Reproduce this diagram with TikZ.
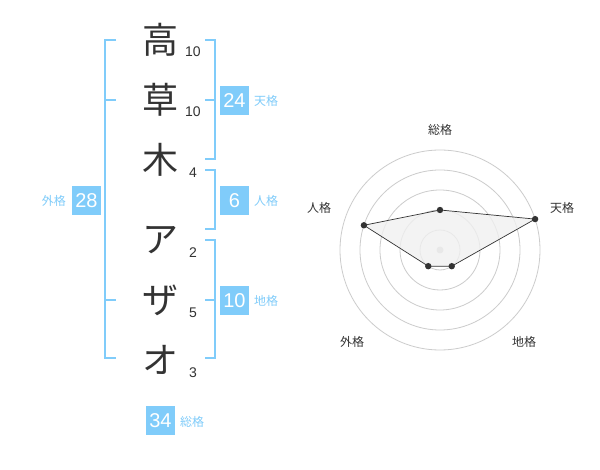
\documentclass[tikz,border=0pt]{standalone}
\usepackage{fontspec}
\setmainfont{Noto Sans CJK JP}
\newfontfamily\cjk{Noto Sans CJK JP}
\newfontfamily\latn{Liberation Sans}
\definecolor{boxblue}{RGB}{128,204,250}
\definecolor{textgray}{RGB}{51,51,51}
\definecolor{gridgray}{RGB}{204,204,204}
\definecolor{polyfill}{RGB}{240,240,240}
\tikzset{
  bigchar/.style={font=\fontsize{36}{36}\selectfont\cjk, text=textgray, inner sep=0},
  strokes/.style={font=\fontsize{14}{14}\selectfont\latn, text=textgray, inner sep=0},
  numbox/.style={fill=boxblue, text=white, minimum size=29pt, inner sep=0, font=\fontsize{20}{20}\selectfont\latn},
  kaku/.style={text=boxblue, font=\fontsize{12}{12}\selectfont\cjk, inner sep=0},
  bracket/.style={draw=boxblue, line width=2pt},
  gridc/.style={draw=gridgray, line width=0.8pt},
  radlab/.style={text=textgray, font=\fontsize{12}{12}\selectfont\cjk, inner sep=0},
  dot/.style={fill=textgray}
}
\begin{document}
\begin{tikzpicture}[x=1pt,y=-1pt]
\useasboundingbox (0,0) rectangle (600,470);
\fill[white] (0,0) rectangle (600,470);
% characters
\node[bigchar] (c1) at (160,40) {高};
\node[bigchar] (c2) at (160,100) {草};
\node[bigchar] (c3) at (160,160) {木};
\node[bigchar] (c4) at (160,240) {ア};
\node[bigchar] (c5) at (160,300) {ザ};
\node[bigchar] (c6) at (160,360) {オ};
\node[strokes] (s1) at (193,52) {10};
\node[strokes] (s2) at (193,112) {10};
\node[strokes] (s3) at (193,173) {4};
\node[strokes] (s4) at (193,253) {2};
\node[strokes] (s5) at (193,313) {5};
\node[strokes] (s6) at (193,373) {3};
% brackets
\draw[bracket] (116,40) -- (105,40) -- (105,358) -- (116,358);
\draw[bracket] (105,100) -- (116,100);
\draw[bracket] (105,300) -- (116,300);
\draw[bracket] (205,40) -- (215,40) -- (215,159) -- (205,159);
\draw[bracket] (205,100) -- (215,100);
\draw[bracket] (205,170) -- (215,170) -- (215,229) -- (205,229);
\draw[bracket] (205,240) -- (215,240) -- (215,358) -- (205,358);
\draw[bracket] (205,300) -- (215,300);
% boxes
\node[numbox] (b1) at (234.5,100.5) {24};
\node[kaku, anchor=west] (l1) at (254,101) {天格};
\node[numbox] (b2) at (234.5,200.5) {6};
\node[kaku, anchor=west] (l2) at (254,201) {人格};
\node[numbox] (b3) at (234.5,300.5) {10};
\node[kaku, anchor=west] (l3) at (254,301) {地格};
\node[numbox] (b4) at (86.5,200.5) {28};
\node[kaku, anchor=east] (l4) at (66,201) {外格};
\node[numbox] (b5) at (160.5,420.5) {34};
\node[kaku, anchor=west] (l5) at (180,422) {総格};
% radar
\begin{scope}[shift={(440,250)}, y=1pt]
  \foreach \r in {20,40,60,80,100} \draw[gridc] (0,0) circle[radius=\r];
  \fill[gridgray] (0,0) circle[radius=3.5];
  \coordinate (p1) at (90:40);
  \coordinate (p2) at (18:100);
  \coordinate (p3) at (-54:20);
  \coordinate (p4) at (-126:20);
  \coordinate (p5) at (162:80);
  \filldraw[fill=polyfill, fill opacity=0.8, draw=textgray, line width=0.7pt] (p1) -- (p2) -- (p3) -- (p4) -- (p5) -- cycle;
  \foreach \p in {p1,p2,p3,p4,p5} \fill[dot] (\p) circle[radius=3.2];
\end{scope}
\node[radlab] (r1) at (440,130) {総格};
\node[radlab] (r2) at (562,208) {天格};
\node[radlab] (r3) at (319,208) {人格};
\node[radlab] (r4) at (352,342) {外格};
\node[radlab] (r5) at (524,342) {地格};
\end{tikzpicture}
\end{document}
